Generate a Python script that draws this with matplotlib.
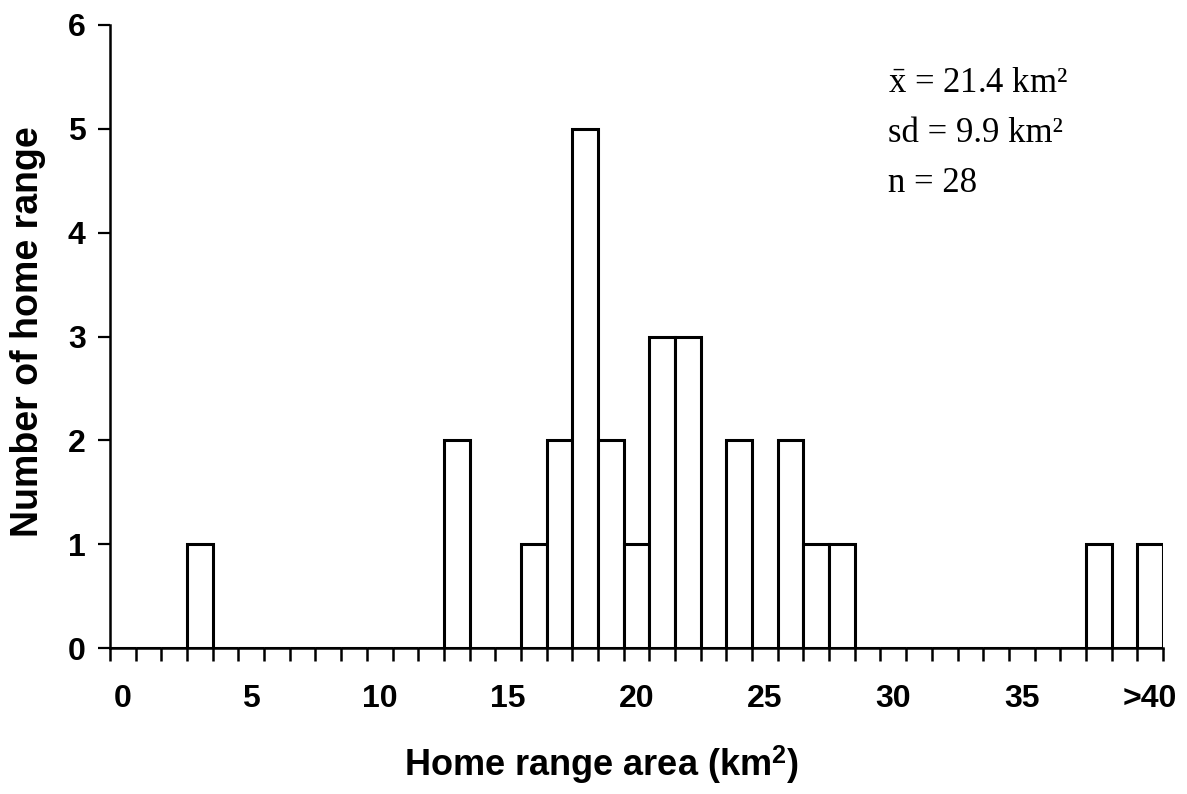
import numpy as np
import matplotlib
matplotlib.use("Agg")
import matplotlib.pyplot as plt

plt.rcParams["mathtext.fontset"] = "custom"
plt.rcParams["mathtext.rm"] = "Liberation Serif"
plt.rcParams["mathtext.it"] = "Liberation Serif:italic"
plt.rcParams["mathtext.bf"] = "Liberation Sans:bold"

# home range area classes (km2), last one is open ended
categories = [str(i) for i in range(40)] + [">40"]
counts = [0, 0, 0, 1, 0, 0, 0, 0, 0, 0,
          0, 0, 0, 2, 0, 0, 1, 2, 5, 2,
          1, 3, 3, 0, 2, 0, 2, 1, 1, 0,
          0, 0, 0, 0, 0, 0, 0, 0, 1, 0,
          1]
tick_labels = ["0", "5", "10", "15", "20", "25", "30", "35", ">40"]
stats_lines = [r"$\bar{\mathrm{x}}$ = 21.4 km²", "sd = 9.9 km²", "n = 28"]

W, H = 1187, 794
fig = plt.figure(figsize=(W / 100, H / 100), dpi=100)
ax = fig.add_axes([110 / W, 1 - 648 / H, (1163 - 110) / W, (648 - 25) / H])

x = np.arange(len(categories))
ax.bar(x, counts, width=1.0, color="white", edgecolor="black", linewidth=2.2)

ax.set_xlim(-0.5, len(categories) - 0.5)
ax.set_ylim(0, 6)

# labels every 5 classes, ticks on class boundaries
label_pos = [categories.index(t) for t in tick_labels]
ax.set_xticks(label_pos)
ax.set_xticklabels(tick_labels)
ax.set_xticks(np.arange(-0.5, len(categories), 1.0), minor=True)
ax.tick_params(axis="x", which="major", length=0, pad=26)
ax.tick_params(axis="x", which="minor", length=9, width=1.8, direction="out")
ax.set_yticks(range(0, 7))
ax.tick_params(axis="y", length=8.5, width=1.6, direction="out", pad=9)

for lab in ax.get_xticklabels() + ax.get_yticklabels():
    lab.set_fontfamily("Liberation Sans")
    lab.set_fontweight("bold")
    lab.set_fontsize(23)

for s in ["top", "right"]:
    ax.spines[s].set_visible(False)
for s in ["left", "bottom"]:
    ax.spines[s].set_linewidth(1.8)

fig.text(601 / W, 1 - 765 / H, r"Home range area (km$^{\mathbf{2}}$)",
         ha="center", va="center", fontsize=26, fontweight="bold",
         family="Liberation Sans")
fig.text(28 / W, 1 - 332 / H, "Number of home range", rotation=90,
         ha="center", va="center", fontsize=27, fontweight="bold",
         family="Liberation Sans")

for i, line in enumerate(stats_lines):
    fig.text(888 / W, 1 - (83 + 50 * i) / H, line, ha="left", va="center",
             fontsize=25, family="Liberation Serif")

fig.savefig("out.png", dpi=100, facecolor="white")
